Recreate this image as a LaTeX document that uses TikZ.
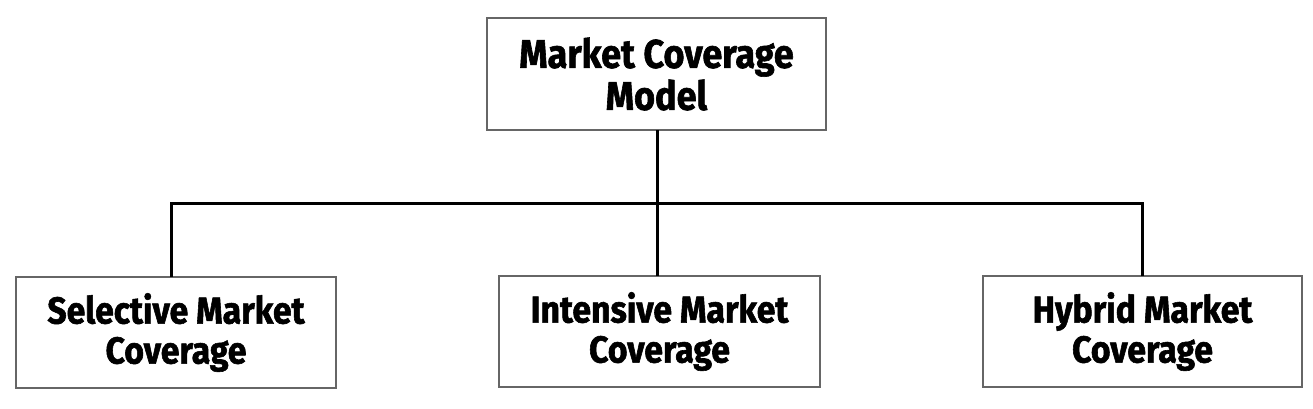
\documentclass[tikz,border=0pt]{standalone}
\usepackage{fontspec}
\setmainfont{Fira Sans}[FakeStretch=0.9, BoldFeatures={FakeBold=1.5}]
\begin{document}
\begin{tikzpicture}[x=1pt,y=-1pt,
  box/.style={draw=black!60, line width=1.4pt, fill=white, rectangle, align=center,
    font=\bfseries\fontsize{40}{42}\selectfont, inner sep=0pt},
  leaf/.style={box, font=\bfseries\fontsize{37.5}{40}\selectfont},
  conn/.style={draw=black, line width=3pt}]
\useasboundingbox (0,0) rectangle (1313,408);
\node[box, minimum width=339pt, minimum height=112pt] (top) at (656.5,74) {Market Coverage\\Model};
\node[leaf, minimum width=320pt, minimum height=111pt] (left) at (176,332.5) {Selective Market\\Coverage};
\node[leaf, minimum width=321pt, minimum height=111pt] (mid) at (659.5,331.5) {Intensive Market\\Coverage};
\node[leaf, minimum width=319pt, minimum height=111pt] (right) at (1142.5,331.5) {Hybrid Market\\Coverage};
\coordinate (busL) at (171,203);
\coordinate (busR) at (1142,203);
\coordinate (lt) at (171,277);
\coordinate (rt) at (1142,276);
\coordinate (ts) at (657,130);
\coordinate (mt) at (657,276);
\draw[conn] (lt) -- (busL) -- (busR) -- (rt);
\draw[conn] (ts) -- (mt);
\end{tikzpicture}
\end{document}
